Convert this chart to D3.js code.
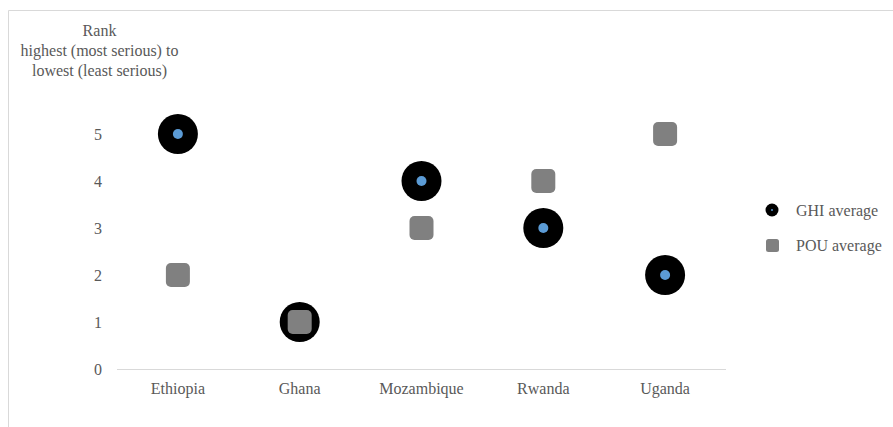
<!DOCTYPE html>
<html>
<head>
<meta charset="utf-8">
<script src="https://cdn.jsdelivr.net/npm/d3@7"></script>
</head>
<body style="margin:0;background:#fff">
<svg id="chart" width="893" height="427"></svg>
<script>
const countries = ["Ethiopia", "Ghana", "Mozambique", "Rwanda", "Uganda"];
const ghiAverage = [5, 1, 4, 3, 2];
const pouAverage = [2, 1, 3, 4, 5];
const yTicks = [0, 1, 2, 3, 4, 5];
const seriesNames = ["GHI average", "POU average"];
const titleLines = ["Rank", "highest (most serious) to", "lowest (least serious)"];

const svg = d3.select("#chart");
const textColor = "#595959";
const font = '"Liberation Serif"';
const fs = "16px";

// apply the chart's text style to a selection
const styled = sel => sel
  .style("font-family", font)
  .style("font-size", fs)
  .attr("fill", textColor);

// outer chart frame
svg.append("path")
  .attr("d", "M8.5,427 V10.5 H893")
  .attr("fill", "none")
  .attr("stroke", "#d9d9d9")
  .attr("stroke-width", 1);

const x = d3.scaleBand().domain(countries).range([117, 726]);
const y = d3.scaleLinear().domain([0, 6]).range([369, 87]);

// axis title
svg.append("g")
  .selectAll("text")
  .data(titleLines)
  .join("text")
  .attr("x", 99.5)
  .attr("y", (d, i) => 36 + i * 20)
  .attr("text-anchor", "middle")
  .call(styled)
  .text(d => d);

// y tick labels
svg.append("g")
  .selectAll("text")
  .data(yTicks)
  .join("text")
  .attr("x", 102)
  .attr("y", d => y(d))
  .attr("dy", "0.35em")
  .attr("text-anchor", "end")
  .call(styled)
  .text(d => d);

// category axis line
svg.append("line")
  .attr("x1", x.range()[0]).attr("x2", x.range()[1])
  .attr("y1", y(0) + 0.5).attr("y2", y(0) + 0.5)
  .attr("stroke", "#d9d9d9").attr("stroke-width", 1);

// category labels
svg.append("g")
  .selectAll("text")
  .data(countries)
  .join("text")
  .attr("x", d => x(d) + x.bandwidth() / 2)
  .attr("y", 394)
  .attr("text-anchor", "middle")
  .call(styled)
  .text(d => d);

const cx = d => x(d) + x.bandwidth() / 2;

// GHI markers: black disc with blue centre
const ghi = svg.append("g").selectAll("g")
  .data(countries.map((c, i) => ({ c, v: ghiAverage[i] })))
  .join("g")
  .attr("transform", d => `translate(${cx(d.c)},${y(d.v)})`);
ghi.append("circle").attr("r", 20).attr("fill", "#000");
ghi.append("circle").attr("r", 5).attr("fill", "#5b9bd5");

// POU markers: rounded grey squares
const sq = 24;
svg.append("g").selectAll("rect")
  .data(countries.map((c, i) => ({ c, v: pouAverage[i] })))
  .join("rect")
  .attr("x", d => cx(d.c) - sq / 2)
  .attr("y", d => y(d.v) - sq / 2)
  .attr("width", sq).attr("height", sq)
  .attr("rx", 5)
  .attr("fill", "#808080");

// legend
const legend = svg.append("g");
const l1 = legend.append("g").attr("transform", "translate(772,210)");
l1.append("circle").attr("r", 6.5).attr("fill", "#000");
l1.append("circle").attr("r", 1).attr("fill", "#5b9bd5");
legend.append("text").attr("x", 796).attr("y", 210).attr("dy", "0.35em")
  .call(styled).text(seriesNames[0]);
legend.append("rect").attr("x", 766).attr("y", 239).attr("width", 13).attr("height", 13)
  .attr("rx", 2.5).attr("fill", "#808080");
legend.append("text").attr("x", 796).attr("y", 245.5).attr("dy", "0.35em")
  .call(styled).text(seriesNames[1]);
</script>
</body>
</html>
